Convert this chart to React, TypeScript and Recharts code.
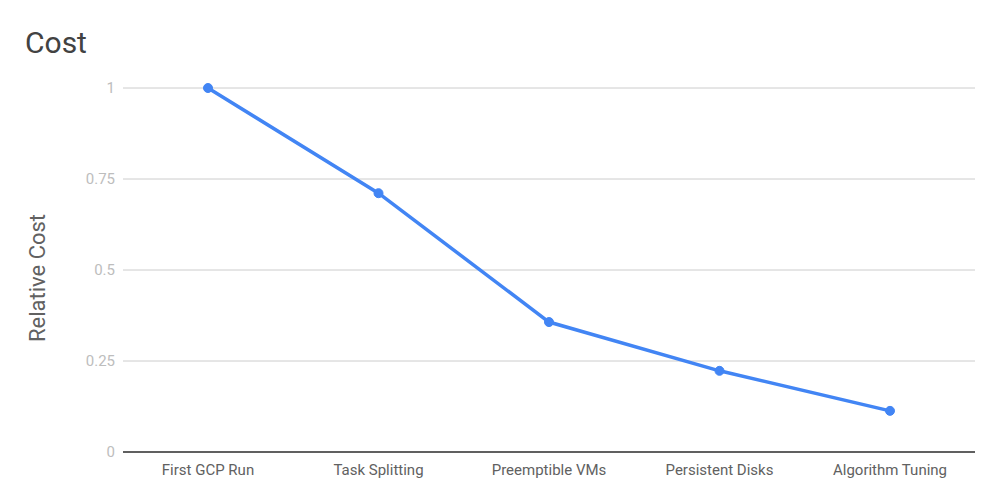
import { CartesianGrid, Line, LineChart, XAxis, YAxis } from "recharts"

// Steps of the cost reduction story
const steps = ["First GCP Run", "Task Splitting", "Preemptible VMs", "Persistent Disks", "Algorithm Tuning"]
const relativeCost = [1, 0.711, 0.357, 0.223, 0.113]
const yTicks = [0, 0.25, 0.5, 0.75, 1]

const data = steps.map((step, i) => ({ step, cost: relativeCost[i] }))

export default function App() {
  return (
    <div
      style={{
        position: "absolute",
        left: 0,
        top: 0,
        width: 1000,
        height: 503,
        background: "white",
        fontFamily: "Roboto, sans-serif",
      }}
    >
      <div
        style={{
          position: "absolute",
          left: 25,
          top: 23,
          fontSize: 30,
          color: "#424242",
          lineHeight: "40px",
        }}
      >
        Cost
      </div>
      <div
        style={{
          position: "absolute",
          left: 38,
          top: 278,
          fontSize: 22,
          color: "#616161",
          lineHeight: "26px",
          whiteSpace: "nowrap",
          transform: "translate(-50%, -50%) rotate(-90deg)",
        }}
      >
        Relative Cost
      </div>
      <LineChart
        width={1000}
        height={503}
        data={data}
        margin={{ top: 88, right: 25, bottom: 21, left: 0 }}
      >
        <CartesianGrid vertical={false} stroke="#cccccc" />
        <XAxis
          dataKey="step"
          height={30}
          padding={{ left: 85, right: 85 }}
          tickLine={false}
          axisLine={{ stroke: "#333333", strokeWidth: 1.5 }}
          tickMargin={6}
          tick={{ fontSize: 15, fill: "#616161" }}
        />
        <YAxis
          width={123}
          domain={[0, 1]}
          ticks={yTicks}
          tickLine={false}
          axisLine={false}
          tick={{ fontSize: 15, fill: "#bdbdbd" }}
        />
        <Line
          dataKey="cost"
          stroke="#4285f4"
          strokeWidth={3.5}
          dot={{ r: 4.5, fill: "#4285f4", stroke: "#4285f4", strokeWidth: 1 }}
          isAnimationActive={false}
        />
      </LineChart>
    </div>
  )
}
